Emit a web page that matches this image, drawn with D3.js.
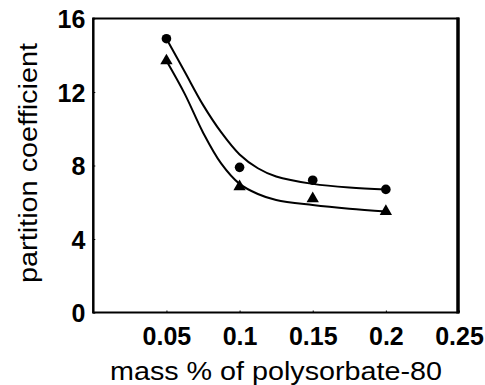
<!DOCTYPE html>
<html>
<head>
<meta charset="utf-8">
<script src="https://cdn.jsdelivr.net/npm/d3@7"></script>
<style>
  body { margin: 0; background: #fff; }
  text { font-family: "Liberation Sans", Arial, sans-serif; fill: #000; }
</style>
</head>
<body>
<svg id="chart" width="485" height="385"></svg>
<script>
const svg = d3.select('#chart')
const svgWidth = 485
const svgHeight = 385

// measured points
const massPct = [0.05, 0.1, 0.15, 0.2]
const circleVals = [14.9, 7.9, 7.2, 6.7]
const triangleVals = [13.7, 6.85, 6.2, 5.5]

// fitted curves
const fitX = [0.05, 0.0625, 0.075, 0.0875, 0.1, 0.1125, 0.125, 0.15, 0.175, 0.2]
const fitCircle = [14.9, 13.1, 11.3, 9.8, 8.6, 7.85, 7.4, 7.0, 6.8, 6.7]
const fitTriangle = [13.7, 11.9, 9.8, 8.1, 7.0, 6.45, 6.12, 5.85, 5.65, 5.5]

const xTicks = [0.05, 0.1, 0.15, 0.2, 0.25]
const yTicks = [0, 4, 8, 12, 16]

const plotLeft = 93.3, plotRight = 459, plotTop = 18.5, plotBottom = 312.5

const xScale = d3.scaleLinear()
  .domain([0, 0.25])
  .range([plotLeft, plotRight])

const yScale = d3.scaleLinear()
  .domain([0, 16])
  .range([plotBottom, plotTop])

// axes (tiny inward ticks, bold labels)
const xAxis = svg.append('g')
  .attr('transform', `translate(0, ${plotBottom})`)
  .call(d3.axisBottom(xScale).tickValues(xTicks).tickSize(-2).tickPadding(14)
    .tickFormat(d => String(d)))

const yAxis = svg.append('g')
  .attr('transform', `translate(${plotLeft}, 0)`)
  .call(d3.axisLeft(yScale).tickValues(yTicks).tickSize(-2).tickPadding(8))

svg.selectAll('.domain').remove()
svg.selectAll('.tick line').attr('stroke', '#000').attr('stroke-width', 1)
svg.selectAll('.tick text')
  .attr('font-family', '"Liberation Sans", Arial, sans-serif')
  .attr('font-size', 25)
  .attr('font-weight', 'bold')
  .attr('fill', '#000')
xAxis.selectAll('.tick text').attr('dy', '0.72em')
yAxis.selectAll('.tick text').attr('dy', '0.36em')

// frame
svg.append('line').attr('x1', plotLeft).attr('x2', plotRight).attr('y1', plotTop).attr('y2', plotTop)
  .attr('stroke', '#000').attr('stroke-width', 2)
svg.append('line').attr('x1', plotLeft).attr('x2', plotRight).attr('y1', plotBottom).attr('y2', plotBottom)
  .attr('stroke', '#000').attr('stroke-width', 2)
svg.append('line').attr('x1', plotLeft).attr('x2', plotLeft).attr('y1', plotTop - 1).attr('y2', plotBottom + 1)
  .attr('stroke', '#000').attr('stroke-width', 2.5)
svg.append('line').attr('x1', plotRight - 1).attr('x2', plotRight - 1).attr('y1', plotTop - 1).attr('y2', plotBottom + 1)
  .attr('stroke', '#000').attr('stroke-width', 3.5)

// fitted curves
const line = d3.line()
  .x((d, i) => xScale(fitX[i]))
  .y(d => yScale(d))
  .curve(d3.curveCatmullRom.alpha(0.5))

svg.append('path').datum(fitCircle)
  .attr('d', line).attr('fill', 'none').attr('stroke', '#000').attr('stroke-width', 2)
svg.append('path').datum(fitTriangle)
  .attr('d', line).attr('fill', 'none').attr('stroke', '#000').attr('stroke-width', 2)

// markers
svg.selectAll('.dot')
  .data(circleVals)
  .enter()
  .append('circle')
  .attr('class', 'dot')
  .attr('cx', (d, i) => xScale(massPct[i]))
  .attr('cy', d => yScale(d))
  .attr('r', 4.8)
  .attr('fill', '#000')

const tri = d3.symbol().type(d3.symbolTriangle).size(66)
svg.selectAll('.tri')
  .data(triangleVals)
  .enter()
  .append('path')
  .attr('class', 'tri')
  .attr('d', tri)
  .attr('transform', (d, i) => `translate(${xScale(massPct[i])}, ${yScale(d)})`)
  .attr('fill', '#000')

// axis titles
svg.append('text')
  .attr('x', (110 + 442) / 2)
  .attr('y', 380)
  .attr('text-anchor', 'middle')
  .attr('font-size', 25)
  .attr('textLength', 332)
  .attr('lengthAdjust', 'spacingAndGlyphs')
  .text('mass % of polysorbate-80')

svg.append('text')
  .attr('transform', 'rotate(-90)')
  .attr('x', -163)
  .attr('y', 37)
  .attr('text-anchor', 'middle')
  .attr('font-size', 25)
  .attr('textLength', 240)
  .attr('lengthAdjust', 'spacingAndGlyphs')
  .text('partition coefficient')
</script>
</body>
</html>
